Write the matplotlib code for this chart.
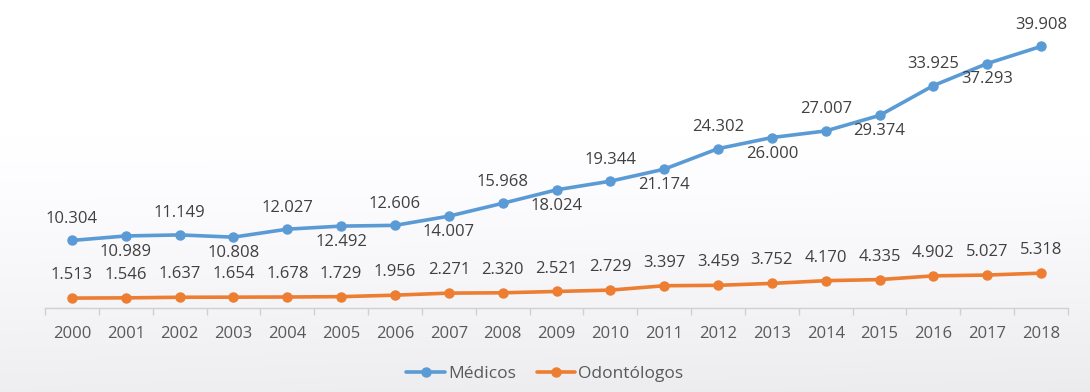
import numpy as np
import matplotlib
matplotlib.use("Agg")
import matplotlib.pyplot as plt
from matplotlib.ticker import FixedLocator

years = [str(y) for y in range(2000, 2019)]
medicos = [10304, 10989, 11149, 10808, 12027, 12492, 12606, 14007, 15968, 18024,
           19344, 21174, 24302, 26000, 27007, 29374, 33925, 37293, 39908]
odontologos = [1513, 1546, 1637, 1654, 1678, 1729, 1956, 2271, 2320, 2521,
               2729, 3397, 3459, 3752, 4170, 4335, 4902, 5027, 5318]


def fmt(v):
    return f"{v:,}".replace(",", ".")


plt.rcParams['font.family'] = ['Open Sans', 'DejaVu Sans']

fig = plt.figure(figsize=(10.9, 3.92), dpi=100)

# soft grey wash toward the bottom of the canvas
bg = fig.add_axes([0, 0, 1, 1], zorder=-10)
h, w = 200, 400
yy = np.linspace(0, 1, h)[:, None]
xx = np.linspace(0, 1, w)[None, :]
shade = np.clip((yy - 0.35) / 0.65, 0, 1) ** 1.2
vals = 1.0 - 0.075 * shade * (0.85 + 0.15 * xx)
img = np.dstack([vals, vals, vals * 1.01])
img = np.clip(img, 0, 1)
bg.imshow(img, aspect='auto', extent=[0, 1, 0, 1], origin='upper')
bg.axis('off')

ax = fig.add_axes([45 / 1090, 1 - 308 / 392, 1023 / 1090, 295 / 392])
ax.patch.set_alpha(0)

x = np.arange(len(years))
blue = '#5B9BD5'
orange = '#ED7D31'
ax.plot(x, medicos, color=blue, lw=2.6, marker='o', ms=6.5, label='Médicos',
        solid_capstyle='round')
ax.plot(x, odontologos, color=orange, lw=2.6, marker='o', ms=6.5, label='Odontólogos',
        solid_capstyle='round')

ax.set_xlim(-0.5, len(years) - 0.5)
ax.set_ylim(0, 45000)

txt_color = '#404040'
fs = 12
for i, v in enumerate(medicos):
    off = 15.5 if i % 2 == 0 else -11.5
    ax.annotate(fmt(v), (i, v), xytext=(0, off), textcoords='offset points',
                ha='center', va='center', fontsize=fs, color=txt_color)
for i, v in enumerate(odontologos):
    ax.annotate(fmt(v), (i, v), xytext=(0, 16.5), textcoords='offset points',
                ha='center', va='center', fontsize=fs, color=txt_color)

for s in ['top', 'right', 'left']:
    ax.spines[s].set_visible(False)
ax.spines['bottom'].set_color('#d0d0d0')
ax.spines['bottom'].set_linewidth(1.0)
ax.set_yticks([])
ax.set_xticks(x)
ax.set_xticklabels(years, fontsize=fs, color='#595959')
ax.tick_params(axis='x', which='major', length=0, pad=13)
ax.xaxis.set_minor_locator(FixedLocator(np.arange(-0.5, len(years), 1)))
ax.tick_params(axis='x', which='minor', length=5, color='#d0d0d0', width=1)

fig.legend(loc='lower center', bbox_to_anchor=(0.5, -0.015), ncol=2, frameon=False,
           fontsize=12.5, labelcolor='#595959', handlelength=2.2, columnspacing=1.2,
           handletextpad=0.2)

fig.savefig('out.png', dpi=100)
